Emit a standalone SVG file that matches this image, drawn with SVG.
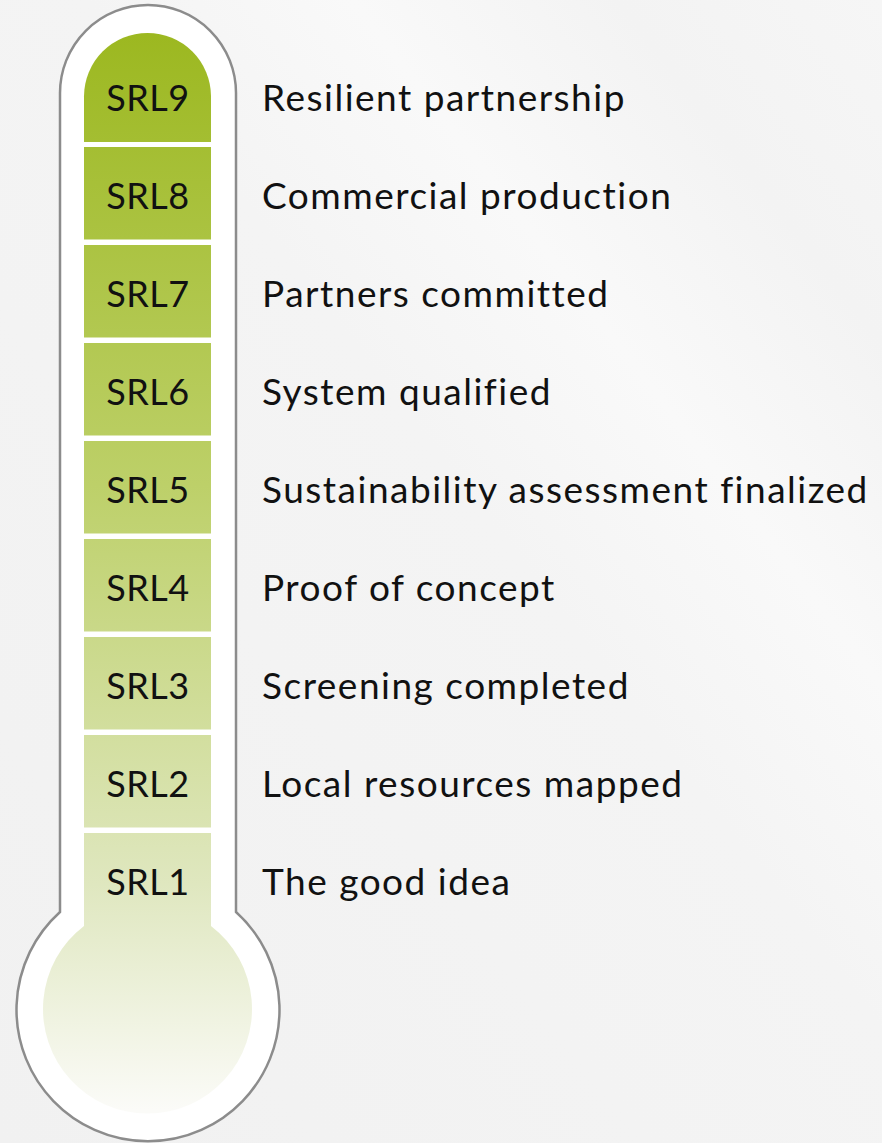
<svg xmlns="http://www.w3.org/2000/svg" width="882" height="1143" viewBox="0 0 882 1143">
<defs>
<linearGradient id="fillg" gradientUnits="userSpaceOnUse" x1="0" y1="33" x2="0" y2="1110">
<stop offset="0" stop-color="#9cb820"/>
<stop offset="0.42" stop-color="#bdd069"/>
<stop offset="0.79" stop-color="#dfe7bf"/>
<stop offset="1" stop-color="#fbfbf8"/>
</linearGradient>
<linearGradient id="bg" x1="0" y1="1" x2="1" y2="0">
<stop offset="0" stop-color="#f1f1f1"/>
<stop offset="0.55" stop-color="#f4f4f4"/>
<stop offset="0.7" stop-color="#f9f9f9"/>
<stop offset="0.85" stop-color="#f3f3f3"/>
<stop offset="1" stop-color="#f6f6f6"/>
</linearGradient>
<style>
.seg{fill:url(#fillg)}
.code{font-family:Lato,"Noto Sans",sans-serif;font-size:36px;fill:#111;text-anchor:middle;letter-spacing:0.5px}
.lbl{font-family:Lato,"Noto Sans",sans-serif;font-size:37px;fill:#111;letter-spacing:1.5px}
</style>
</defs>
<rect width="882" height="1143" fill="url(#bg)"/>
<g id="thermometer">
<path d="M60 93 A88 88 0 0 1 236 93 L236 912 A131.5 131.5 0 1 1 60 912 Z" fill="#fff" stroke="#8c8c8c" stroke-width="2.5"/>
</g>
<g id="srl9"><path class="seg" d="M84 142 L84 96.5 A63.5 63.5 0 0 1 211 96.5 L211 142 Z"/><text class="code" x="148" y="111">SRL9</text><text class="lbl" x="262" y="111">Resilient partnership</text></g>
<g id="srl8"><rect class="seg" x="84" y="147" width="127" height="92.5"/><text class="code" x="148" y="209">SRL8</text><text class="lbl" x="262" y="209">Commercial production</text></g>
<g id="srl7"><rect class="seg" x="84" y="245" width="127" height="92.5"/><text class="code" x="148" y="307">SRL7</text><text class="lbl" x="262" y="307">Partners committed</text></g>
<g id="srl6"><rect class="seg" x="84" y="343" width="127" height="92.5"/><text class="code" x="148" y="405">SRL6</text><text class="lbl" x="262" y="405">System qualified</text></g>
<g id="srl5"><rect class="seg" x="84" y="441" width="127" height="92.5"/><text class="code" x="148" y="503">SRL5</text><text class="lbl" x="262" y="503">Sustainability assessment finalized</text></g>
<g id="srl4"><rect class="seg" x="84" y="539" width="127" height="92.5"/><text class="code" x="148" y="601">SRL4</text><text class="lbl" x="262" y="601">Proof of concept</text></g>
<g id="srl3"><rect class="seg" x="84" y="637" width="127" height="92.5"/><text class="code" x="148" y="699">SRL3</text><text class="lbl" x="262" y="699">Screening completed</text></g>
<g id="srl2"><rect class="seg" x="84" y="735" width="127" height="92.5"/><text class="code" x="148" y="797">SRL2</text><text class="lbl" x="262" y="797">Local resources mapped</text></g>
<g id="srl1"><path class="seg" d="M84 833 L211 833 L211 926 A104.5 104.5 0 1 1 84 926 Z"/><text class="code" x="148" y="895">SRL1</text><text class="lbl" x="262" y="895">The good idea</text></g>
</svg>
